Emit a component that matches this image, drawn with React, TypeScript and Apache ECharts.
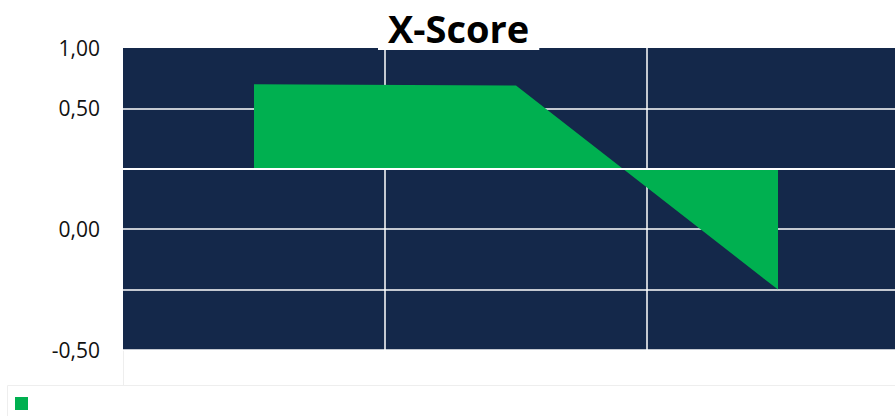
import React, { useEffect, useRef } from "react";
import * as echarts from "echarts";

const categories = ["1", "2", "3"];
const xScoreValues = [0.6, 0.595, -0.25];
const baselineValue = 0.25;
const yTickLabels = ["-0,50", "", "0,00", "", "0,50", "1,00"];
const yMin = -0.5;
const yMax = 0.75;
const yInterval = 0.25;

export default function App() {
  const ref = useRef<HTMLDivElement>(null);
  useEffect(() => {
    document.body.style.margin = "0";
    const chart = echarts.init(ref.current!, null, { renderer: "svg" });
    chart.setOption({
      animation: false,
      backgroundColor: "#ffffff",
      title: {
        text: "X-Score",
        left: 378,
        top: 0,
        backgroundColor: "#ffffff",
        padding: [9, 10, 3, 10],
        textStyle: {
          fontFamily: "Open Sans",
          fontWeight: "bold",
          fontSize: 38,
          color: "#000000",
        },
        z: 10,
      },
      legend: {
        left: 10,
        top: 392,
        icon: "rect",
        itemWidth: 13,
        itemHeight: 13,
        formatter: () => "",
        data: ["X-Score"],
      },
      grid: {
        left: 123,
        top: 48,
        height: 302,
        width: 786,
        outerBoundsMode: "none",
        containLabel: false,
        show: true,
        backgroundColor: "#14284a",
        borderWidth: 0,
      },
      xAxis: {
        type: "category",
        data: categories,
        boundaryGap: true,
        axisLine: { show: false },
        axisTick: { show: false },
        axisLabel: { show: false },
        splitLine: {
          show: true,
          showMinLine: false,
          lineStyle: { color: "#ffffff", width: 1.5 },
        },
      },
      yAxis: {
        type: "value",
        min: yMin,
        max: yMax,
        interval: yInterval,
        axisLine: { show: false },
        axisTick: { show: false },
        axisLabel: {
          margin: 23,
          fontFamily: "Open Sans",
          fontSize: 21,
          color: "#111111",
          formatter: (_v: number, i: number) => yTickLabels[i] ?? "",
        },
        splitLine: {
          show: true,
          showMaxLine: false,
          lineStyle: { color: "#ffffff", width: 1.5 },
        },
      },
      series: [
        {
          name: "X-Score",
          type: "line",
          data: xScoreValues,
          symbol: "none",
          color: "#00b050",
          lineStyle: { width: 0, color: "#00b050" },
          areaStyle: { color: "#00b050", opacity: 1, origin: baselineValue },
          markLine: {
            silent: true,
            symbol: ["none", "none"],
            label: { show: false },
            lineStyle: { color: "#ffffff", width: 2, type: "solid" },
            data: [{ yAxis: baselineValue }],
          },
        },
      ],
      graphic: [
        {
          type: "rect",
          shape: { x: 7.5, y: 385.5, width: 900, height: 40 },
          style: { fill: "none", stroke: "#eeeeee", lineWidth: 1 },
          silent: true,
          z: -1,
        },
        {
          type: "line",
          shape: { x1: 123.5, y1: 350, x2: 123.5, y2: 385 },
          style: { stroke: "#eeeeee", lineWidth: 1 },
          silent: true,
        },
      ],
    });
    return () => chart.dispose();
  }, []);
  return (
    <div
      ref={ref}
      style={{ position: "fixed", left: 0, top: 0, width: 895, height: 416 }}
    />
  );
}
